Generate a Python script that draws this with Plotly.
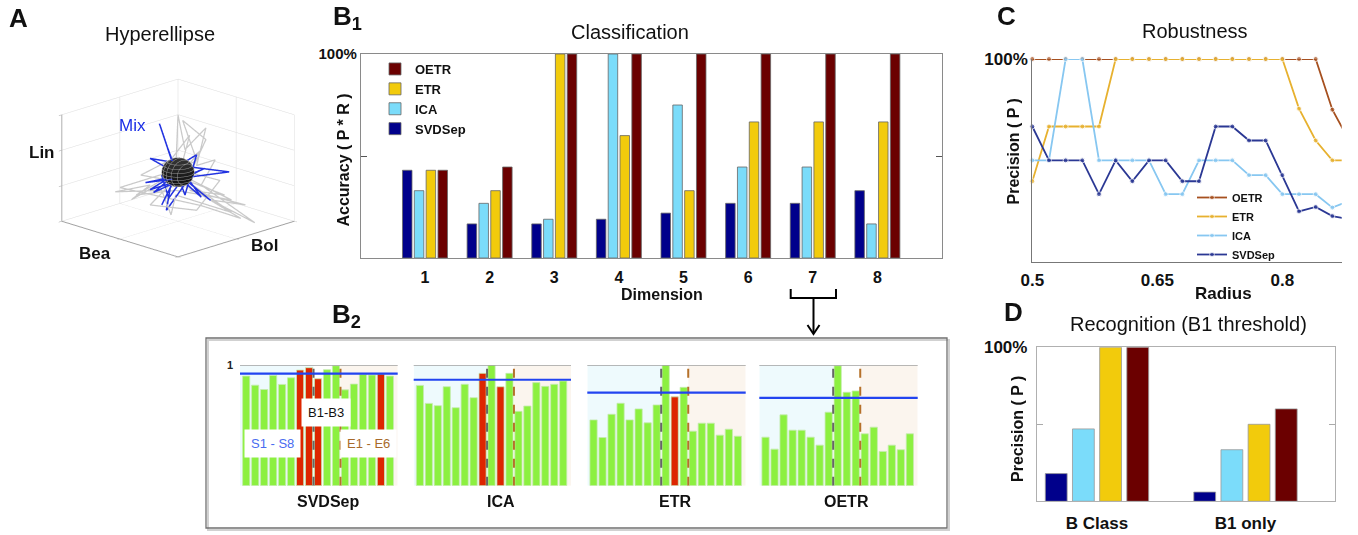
import numpy as np
import plotly.graph_objects as go

W, H = 1358, 535
def px(x):
    return x / W
def py(y):
    return 1 - y / H

FONT = "Liberation Sans, Arial, Helvetica, sans-serif"

# ---------------- data ----------------
methods = ["SVDSep", "ICA", "ETR", "OETR"]

# Panel B1 : classification accuracy per dimension (%)
dimensions = [1, 2, 3, 4, 5, 6, 7, 8]
acc_svdsep = [43, 16.7, 16.7, 19, 22, 26.8, 26.8, 33]
acc_ica = [33, 26.8, 19, 100, 75, 44.6, 44.6, 16.7]
acc_etr = [43, 33, 100, 60, 33, 66.7, 66.7, 66.7]
acc_oetr = [43, 44.6, 100, 100, 100, 100, 100, 100]

# Panel C : robustness, precision vs radius (%)
radius = [0.50, 0.52, 0.54, 0.56, 0.58, 0.60, 0.62, 0.64, 0.66, 0.68,
          0.70, 0.72, 0.74, 0.76, 0.78, 0.80, 0.82, 0.84, 0.86, 0.88]
prec_oetr = [100, 100, 100, 100, 100, 100, 100, 100, 100, 100,
             100, 100, 100, 100, 100, 100, 100, 100, 75, 60]
prec_etr = [39.7, 66.7, 66.7, 66.7, 66.7, 100, 100, 100, 100, 100,
            100, 100, 100, 100, 100, 100, 75.5, 59.8, 50, 50]
prec_ica = [50, 50, 100, 100, 50, 50, 50, 50, 33.3, 33.3,
            50, 50, 50, 42.7, 42.7, 33.3, 33.3, 33.3, 26.7, 30]
prec_svdsep = [66.7, 50, 50, 50, 33.3, 50, 39.7, 50, 50, 39.7,
               39.7, 66.7, 66.7, 59.8, 59.8, 42.7, 24.8, 27, 22.5, 21]
radius_ticks = [0.5, 0.65, 0.8]

# Panel D : recognition precision (%)
recog_groups = ["B Class", "B1 only"]
recog_svdsep = [18, 6]
recog_ica = [47, 33.5]
recog_etr = [100, 50]
recog_oetr = [100, 60]

# Panel B2 : per-segment scores for dimension 7
segments = ["S1", "S2", "S3", "S4", "S5", "S6", "S7", "S8",
            "B1", "B2", "B3", "E1", "E2", "E3", "E4", "E5", "E6"]
score_svdsep = [0.908, 0.833, 0.797, 0.914, 0.839, 0.894, 0.958, 0.978,
                0.886, 0.961, 0.994, 0.794, 0.842, 0.922, 0.917, 0.925, 0.908]
score_ica = [0.831, 0.682, 0.663, 0.820, 0.646, 0.840, 0.729, 0.931,
             1.0, 0.820, 0.931, 0.616, 0.660, 0.854, 0.823, 0.840, 0.867]
score_etr = [0.545, 0.399, 0.592, 0.683, 0.545, 0.636, 0.521, 0.669,
             1.0, 0.736, 0.815, 0.452, 0.518, 0.518, 0.419, 0.468, 0.410]
score_oetr = [0.402, 0.303, 0.587, 0.460, 0.460, 0.402, 0.336, 0.609,
              0.994, 0.774, 0.785, 0.430, 0.485, 0.284, 0.336, 0.298, 0.430]
threshold = {"SVDSep": 0.928, "ICA": 0.878, "ETR": 0.771, "OETR": 0.727}
misclassified = {"SVDSep": ["S7", "S8", "B1", "E5"], "ICA": ["S8", "B2"],
                 "ETR": ["B2"], "OETR": []}

# Panel A : hyperellipse and mixed signals (Bea, Bol, Lin)
mix_bea = [0.49, 0.47, 0.48, 0.67, 0.57, 0.46, 0.49, 0.53, 0.51, 0.65, 0.47,
           0.38, 0.51, 0.51, 0.43, 0.53, 0.58, 0.45, 0.50, 0.59, 0.47, 0.50,
           0.43, 0.55, 0.55, 0.48, 0.69, 0.51]
mix_bol = [0.49, 0.37, 0.48, 0.77, 0.47, 0.26, 0.49, 0.33, 0.51, 0.55, 0.47,
           0.38, 0.61, 0.41, 0.43, 0.63, 0.48, 0.45, 0.50, 0.64, 0.32, 0.50,
           0.33, 0.55, 0.35, 0.48, 0.59, 0.51]
mix_lin = [0.46, 0.95, 0.53, 0.43, 0.44, 0.43, 0.42, 0.22, 0.50, 0.26, 0.48,
           0.59, 0.49, 0.25, 0.43, 0.59, 0.28, 0.72, 0.39, 0.48, 0.32, 0.46,
           0.33, 0.41, 0.17, 0.48, 0.23, 0.43]
cloud_bea = [0.49, 0.40, 0.48, 0.52, 0.53, 0.56, 0.60, 0.88, 0.64, 0.74, 0.55,
             0.75, 0.53, 0.83, 0.54, 0.62, 0.43, 0.28, 0.38, 0.40, 0.45, 0.29,
             0.47, 0.45, 0.51, 0.63, 0.68, 0.48, 0.50, 0.50, 0.49,
             0.30, 0.65, 0.82, 0.53, 0.52, 0.42, 0.53, 0.37, 0.49, 0.73, 0.49]
cloud_bol = [0.49, 0.60, 0.58, 0.72, 0.63, 0.76, 0.60, 0.78, 0.64, 0.84, 0.55,
             0.65, 0.53, 0.63, 0.44, 0.32, 0.43, 0.18, 0.38, 0.20, 0.45, 0.39,
             0.47, 0.65, 0.51, 0.73, 0.48, 0.28, 0.50, 0.70, 0.49,
             0.20, 0.55, 0.72, 0.53, 0.72, 0.62, 0.63, 0.27, 0.49, 0.73, 0.49]
cloud_lin = [0.46, 0.93, 0.64, 0.81, 0.49, 0.51, 0.34, 0.02, 0.20, 0.12, 0.29,
             0.28, 0.39, 0.15, 0.28, 0.16, 0.29, 0.31, 0.34, 0.27, 0.39, 0.40,
             0.58, 0.74, 0.48, 0.35, 0.17, 0.22, 0.42, 0.60, 0.48,
             0.35, 0.18, 0.06, 0.34, 0.70, 0.88, 0.54, 0.28, 0.29, 0.20, 0.46]
ellipse_center = [0.5, 0.5, 0.46]
ellipse_radii = [0.10, 0.10, 0.13]

# ---------------- styles ----------------
BAR_COL = {"SVDSep": "#00008B", "ICA": "#7BDCFA", "ETR": "#F2CB0C", "OETR": "#6B0000"}
LINE_COL = {"OETR": "#A6501F", "ETR": "#E7B12F", "ICA": "#87C7F1", "SVDSep": "#2B3894"}
GREEN, RED = "#8CF040", "#DD2600"
GRAY = "#8a8a8a"
PITCH, BW = 0.183, 0.147

fig = go.Figure()

# ---------------- Panel A (3D) ----------------
fig.add_trace(go.Scatter3d(x=cloud_bea, y=cloud_bol, z=cloud_lin, mode="lines",
                           line=dict(color="#C9C9C9", width=2.5), showlegend=False,
                           hoverinfo="skip", scene="scene"))
u = np.linspace(0, 2 * np.pi, 25)
v = np.linspace(0, np.pi, 13)
ex = ellipse_center[0] + ellipse_radii[0] * np.outer(np.cos(u), np.sin(v))
ey = ellipse_center[1] + ellipse_radii[1] * np.outer(np.sin(u), np.sin(v))
ez = ellipse_center[2] + ellipse_radii[2] * np.outer(np.ones_like(u), np.cos(v))
fig.add_trace(go.Surface(x=ex, y=ey, z=ez, colorscale=[[0, "#111111"], [1, "#333333"]],
                         showscale=False, hoverinfo="skip", scene="scene",
                         contours=dict(z=dict(show=True, color="#9a9a9a", width=1,
                                              start=float(ez.min()), end=float(ez.max()),
                                              size=ellipse_radii[2] / 4),
                                       x=dict(show=True, color="#9a9a9a", width=1,
                                              start=float(ex.min()), end=float(ex.max()),
                                              size=ellipse_radii[0] / 3))))
fig.add_trace(go.Scatter3d(x=mix_bea, y=mix_bol, z=mix_lin, mode="lines",
                           line=dict(color="#2233E0", width=3), showlegend=False,
                           hoverinfo="skip", scene="scene"))

# ---------------- Panel B1 ----------------
b1_series = {"SVDSep": acc_svdsep, "ICA": acc_ica, "ETR": acc_etr, "OETR": acc_oetr}
for k, m in enumerate(methods):
    fig.add_trace(go.Bar(x=dimensions, y=b1_series[m], name=m,
                         marker=dict(color=BAR_COL[m], line=dict(color="#666", width=0.8)),
                         width=BW, offset=-2 * PITCH + k * PITCH + (PITCH - BW) / 2,
                         xaxis="x", yaxis="y", legend="legend", hoverinfo="skip"))

# ---------------- Panel C ----------------
c_series = {"OETR": prec_oetr, "ETR": prec_etr, "ICA": prec_ica, "SVDSep": prec_svdsep}
msize = [5] * (len(radius) - 1) + [0]
for m in ["OETR", "ETR", "ICA", "SVDSep"]:
    fig.add_trace(go.Scatter(x=radius, y=c_series[m], name=m, mode="lines+markers",
                             line=dict(color=LINE_COL[m], width=1.8),
                             marker=dict(color=LINE_COL[m], size=msize),
                             cliponaxis=False, xaxis="x2", yaxis="y2",
                             legend="legend2", hoverinfo="skip"))

# ---------------- Panel D ----------------
d_series = {"SVDSep": recog_svdsep, "ICA": recog_ica, "ETR": recog_etr, "OETR": recog_oetr}
for k, m in enumerate(methods):
    fig.add_trace(go.Bar(x=recog_groups, y=d_series[m], name=m, showlegend=False,
                         marker=dict(color=BAR_COL[m], line=dict(color="#999", width=0.8)),
                         width=BW, offset=-2 * PITCH + k * PITCH + (PITCH - BW) / 2,
                         xaxis="x3", yaxis="y3", hoverinfo="skip"))

# ---------------- Panel B2 ----------------
b2_scores = {"SVDSep": score_svdsep, "ICA": score_ica, "ETR": score_etr, "OETR": score_oetr}
b2_dom = {"SVDSep": (240, 397.7), "ICA": (413.7, 571), "ETR": (587.3, 745.7), "OETR": (759.3, 917.7)}
B2_TOP, B2_BOT = 365, 485.7
XR = [-0.69, 16.87]
shapes = []
annotations = []
layout_axes = {}
for i, m in enumerate(methods):
    n = i + 4
    cols = [RED if s in misclassified[m] else GREEN for s in segments]
    fig.add_trace(go.Bar(x=segments, y=b2_scores[m], showlegend=False,
                         marker=dict(color=cols, line=dict(color="#C5EBB0", width=0.8)),
                         width=0.8, xaxis=f"x{n}", yaxis=f"y{n}", hoverinfo="skip"))
    x0, x1 = b2_dom[m]
    layout_axes[f"xaxis{n}"] = dict(domain=[px(x0), px(x1)], anchor=f"y{n}", type="category",
                                    range=XR, showline=False, showgrid=False, zeroline=False,
                                    showticklabels=False, ticks="")
    ya = dict(domain=[py(B2_BOT), py(B2_TOP)], anchor=f"x{n}", range=[0, 1], showline=False,
              showgrid=False, zeroline=False, showticklabels=False, ticks="")
    if m == "SVDSep":
        ya.update(showticklabels=True, tickvals=[1], ticktext=["<b>1</b>"],
                  tickfont=dict(size=11, family=FONT, color="#222"), ticklabelstandoff=6)
    layout_axes[f"yaxis{n}"] = ya
    xr, yr = f"x{n}", f"y{n}"
    shapes += [
        dict(type="rect", xref=xr, yref=yr, x0=XR[0], x1=7.5, y0=0, y1=1,
             fillcolor="#EEFAFD", line=dict(width=0), layer="below"),
        dict(type="rect", xref=xr, yref=yr, x0=10.5, x1=XR[1], y0=0, y1=1,
             fillcolor="#FBF5EE", line=dict(width=0), layer="below"),
        dict(type="line", xref=f"{xr} domain", yref=yr, x0=0, x1=1, y0=1, y1=1,
             line=dict(color="#a0a0a0", width=1.5)),
        dict(type="line", xref=xr, yref=yr, x0=7.5, x1=7.5, y0=0, y1=1,
             line=dict(color="#666666", width=2, dash="dash")),
        dict(type="line", xref=xr, yref=yr, x0=10.5, x1=10.5, y0=0, y1=1,
             line=dict(color="#B5712A", width=2, dash="dash")),
        dict(type="line", xref=f"{xr} domain", yref=yr, x0=0, x1=1,
             y0=threshold[m], y1=threshold[m], line=dict(color="#2244F0", width=2.2)),
    ]

# B2 frame, bracket and arrow
shapes += [
    dict(type="rect", xref="paper", yref="paper", x0=px(208), x1=px(949), y0=py(530), y1=py(340),
         line=dict(color="rgba(0,0,0,0.18)", width=2), layer="below"),
    dict(type="rect", xref="paper", yref="paper", x0=px(206), x1=px(947), y0=py(528), y1=py(338),
         line=dict(color="#707070", width=1.3), fillcolor="rgba(0,0,0,0)", layer="below"),
    dict(type="path", xref="paper", yref="paper",
         path=f"M{px(790.7)},{py(289)} L{px(790.7)},{py(298)} L{px(836)},{py(298)} L{px(836)},{py(289)}",
         line=dict(color="black", width=2)),
    dict(type="line", xref="paper", yref="paper", x0=px(813.5), x1=px(813.5), y0=py(298), y1=py(333),
         line=dict(color="black", width=2)),
    dict(type="path", xref="paper", yref="paper",
         path=f"M{px(807.5)},{py(325)} L{px(813.5)},{py(334)} L{px(819.5)},{py(325)}",
         line=dict(color="black", width=2)),
]

def ann(text, x, y, size, color="#111", bold=False, **kw):
    t = f"<b>{text}</b>" if bold else text
    d = dict(text=t, x=px(x), y=py(y), xref="paper", yref="paper", showarrow=False,
             xanchor="center", yanchor="middle",
             font=dict(family=FONT, size=size, color=color))
    d.update(kw)
    annotations.append(d)

# panel letters & titles
ann("A", 18, 18, 26, bold=True)
ann("B<sub>1</sub>", 347, 17, 26, bold=True)
ann("B<sub>2</sub>", 346, 315, 26, bold=True)
ann("C", 1006, 16, 26, bold=True)
ann("D", 1013, 312, 26, bold=True)
ann("Hyperellipse", 160, 34, 20)
ann("Classification", 630, 32, 20)
ann("Robustness", 1195, 31, 20)
ann("Recognition (B1 threshold)", 1188, 324, 20)
# axis titles
ann("Accuracy ( P * R )", 342.5, 160, 16, bold=True, textangle=-90)
ann("Dimension", 662, 294, 16, bold=True)
ann("Precision ( P )", 1012.5, 152, 16, bold=True, textangle=-90)
ann("Radius", 1223, 293, 17, bold=True)
ann("Precision ( P )", 1017, 429, 16, bold=True, textangle=-90)
# panel A labels
ann("Lin", 42, 152, 17, bold=True)
ann("Bea", 95, 253, 17, bold=True)
ann("Bol", 264, 246, 17, bold=True)
ann("Mix", 132, 126, 17, color="#1a2ee6")
# panel B2 labels
for m, xc in zip(methods, [327.7, 501, 675, 846.7]):
    ann(m, xc, 501, 16, bold=True)
ann("B1-B3", 325.7, 412, 13, bgcolor="white", borderpad=6)
ann("S1 - S8", 272, 443.5, 13, color="#4A6CF0", bgcolor="white", borderpad=6)
ann("E1 - E6", 368, 443.5, 13, color="#A86A2A", bgcolor="white", borderpad=6)

scene_axis = dict(range=[0, 1], showbackground=False, showgrid=True, gridcolor="#dcdcdc",
                  gridwidth=1, showticklabels=False, title=dict(text=""), showline=True,
                  linecolor="#a0a0a0", linewidth=2, ticks="outside", tickcolor="#a0a0a0",
                  ticklen=4, zeroline=False, showspikes=False)

fig.update_layout(
    width=W, height=H, margin=dict(l=0, r=0, t=0, b=0, pad=0, autoexpand=False),
    paper_bgcolor="white", plot_bgcolor="white",
    font=dict(family=FONT, color="#111"),
    barmode="overlay",
    scene=dict(
        domain=dict(x=[px(28), px(328)], y=[py(293), py(43)]),
        xaxis=dict(scene_axis, tickvals=[0, 0.5, 1]),
        yaxis=dict(scene_axis, tickvals=[0, 0.5, 1]),
        zaxis=dict(scene_axis, tickvals=[0, 1 / 3, 2 / 3, 1]),
        aspectmode="manual", aspectratio=dict(x=1.315, y=1.315, z=0.895),
        camera=dict(eye=dict(x=1.25, y=-1.25, z=0.57), center=dict(x=0, y=0, z=0),
                    up=dict(x=0, y=0, z=1), projection=dict(type="orthographic")),
        bgcolor="rgba(0,0,0,0)",
    ),
    xaxis=dict(domain=[px(361), px(942)], anchor="y", range=[0.01, 9.0], showline=True,
               linecolor=GRAY, linewidth=1.3, mirror=True, ticks="", tickvals=dimensions,
               tickfont=dict(size=16, family=FONT, weight="bold", color="#111"),
               ticklabelstandoff=5, showgrid=False, zeroline=False),
    yaxis=dict(domain=[py(258), py(54)], anchor="x", range=[0, 100], showline=True,
               linecolor=GRAY, linewidth=1.3, mirror="ticks", ticks="inside", ticklen=6,
               tickcolor="#555", tickvals=[100], ticktext=["100%"],
               minor=dict(tickvals=[50], ticks="inside", ticklen=6, tickcolor="#555"),
               tickfont=dict(size=15, family=FONT, weight="bold", color="#111"),
               showgrid=False, zeroline=False),
    xaxis2=dict(domain=[px(1032.3), px(1341.7)], anchor="y2", range=[0.5, 0.8712],
                showline=True, linecolor="#777", linewidth=1.3, ticks="", tickvals=radius_ticks,
                ticktext=[str(t) for t in radius_ticks],
                tickfont=dict(size=17, family=FONT, weight="bold", color="#111"),
                ticklabelstandoff=3, showgrid=False, zeroline=False),
    yaxis2=dict(domain=[py(261.7), py(59)], anchor="x2", range=[0, 100], showline=True,
                linecolor="#777", linewidth=1.3, ticks="", tickvals=[100], ticktext=["100%"],
                tickfont=dict(size=17, family=FONT, weight="bold", color="#111"),
                showgrid=False, zeroline=False),
    xaxis3=dict(domain=[px(1037), px(1335)], anchor="y3", type="category",
                range=[-0.404, 1.603], showline=True, linecolor="#b0b0b0", linewidth=1.3,
                mirror=True, ticks="",
                tickfont=dict(size=17, family=FONT, weight="bold", color="#111"),
                ticklabelstandoff=6, showgrid=False, zeroline=False),
    yaxis3=dict(domain=[py(501.3), py(347.3)], anchor="x3", range=[0, 100], showline=True,
                linecolor="#b0b0b0", linewidth=1.3, mirror="ticks", ticks="inside", ticklen=6,
                tickcolor="#aaa", tickvals=[100], ticktext=["100%"],
                minor=dict(tickvals=[50], ticks="inside", ticklen=6, tickcolor="#aaa"),
                tickfont=dict(size=17, family=FONT, weight="bold", color="#111"),
                ticklabelstandoff=5, showgrid=False, zeroline=False),
    legend=dict(x=px(375), y=py(54), xanchor="left", yanchor="top", traceorder="reversed",
                bgcolor="rgba(0,0,0,0)", font=dict(size=13, family=FONT, weight="bold", color="#111")),
    legend2=dict(x=px(1192), y=py(183), xanchor="left", yanchor="top", traceorder="normal",
                 bgcolor="rgba(0,0,0,0)", font=dict(size=11, family=FONT, weight="bold", color="#111")),
    shapes=shapes,
    annotations=annotations,
)
fig.update_layout(**layout_axes)

fig.write_html("out.html", config={"displayModeBar": False},
               post_script="document.body.style.margin='0px';document.body.style.overflow='hidden';")
